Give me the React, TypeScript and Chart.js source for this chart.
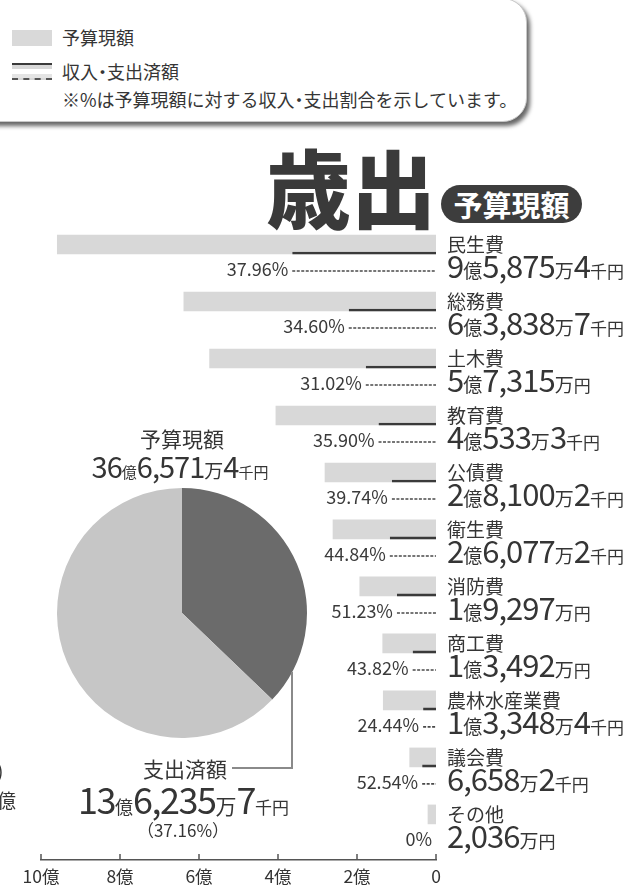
import React, { useEffect, useRef } from "react";
import { Chart, registerables } from "chart.js";

Chart.register(...registerables);

// ---------- data ----------
const categories = ["民生費", "総務費", "土木費", "教育費", "公債費", "衛生費", "消防費", "商工費", "農林水産業費", "議会費", "その他"];
// 予算現額 (億円)
const budgetOku = [9.58754, 6.38387, 5.7315, 4.05333, 2.81002, 2.60772, 1.9297, 1.3492, 1.33484, 0.66582, 0.2036];
// 支出済額 (億円)
const executedOku = [3.6394, 2.2088, 1.7779, 1.4551, 1.1167, 1.1693, 0.9886, 0.5912, 0.3262, 0.3498, 0];
const executedPct = ["37.96%", "34.60%", "31.02%", "35.90%", "39.74%", "44.84%", "51.23%", "43.82%", "24.44%", "52.54%", "0%"];
const budgetLabels = ["9億5,875万4千円", "6億3,838万7千円", "5億7,315万円", "4億533万3千円", "2億8,100万2千円", "2億6,077万2千円", "1億9,297万円", "1億3,492万円", "1億3,348万4千円", "6,658万2千円", "2,036万円"];
const xTickValues = [0, 2, 4, 6, 8, 10];
const xTickLabels = ["0", "2億", "4億", "6億", "8億", "10億"];

const pieLabels = ["支出済額", "未支出額"];
const pieValues = [13.62357, 23.03357];
const pieBudgetTitle = "予算現額";
const pieBudgetText = "36億6,571万4千円";
const pieExecTitle = "支出済額";
const pieExecText = "13億6,235万7千円";
const pieExecPct = "（37.16%）";

// ---------- layout constants ----------
const FONT = "'Noto Sans CJK JP', 'Noto Sans', sans-serif";
const ROW0 = 244.5;
const ROW_H = 57;
const EXEC_OFFSET = 0.307;
const TEXT = "#353535";

type Sizes = { d: number; o: number; m: number; y: number; ls?: number };

function Amount({ text, left, baseline, sizes, center }: { text: string; left: number; baseline: number; sizes: Sizes; center?: boolean }) {
  const parts = text.match(/[0-9,.]+|億|万|千円|円|千/g) || [];
  return (
    <div
      style={{
        position: "absolute",
        left,
        top: baseline - 0.936 * sizes.d,
        display: "flex",
        alignItems: "baseline",
        whiteSpace: "nowrap",
        color: TEXT,
        transform: center ? "translateX(-50%)" : undefined,
      }}
    >
      {parts.map((p, i) => {
        const isNum = /[0-9]/.test(p);
        const f = isNum ? sizes.d : p === "億" ? sizes.o : p === "万" ? sizes.m : sizes.y;
        return (
          <span key={i} style={{ fontSize: f, lineHeight: 1, letterSpacing: isNum ? sizes.ls ?? -1 : 0 }}>
            {p}
          </span>
        );
      })}
    </div>
  );
}

// text with a narrow middle dot
function Dotted({ text }: { text: string }) {
  const parts = text.split("・");
  return (
    <>
      {parts.map((p, i) => (
        <React.Fragment key={i}>
          {i > 0 && <span style={{ margin: "0 -4.5px" }}>・</span>}
          {p}
        </React.Fragment>
      ))}
    </>
  );
}

export default function App() {
  const barRef = useRef<HTMLCanvasElement | null>(null);
  const pieRef = useRef<HTMLCanvasElement | null>(null);

  useEffect(() => {
    document.body.style.margin = "0";
    const overlay = {
      id: "overlay",
      afterDatasetsDraw(chart: any) {
        const ctx = chart.ctx as CanvasRenderingContext2D;
        const meta = chart.getDatasetMeta(0);
        ctx.save();
        meta.data.forEach((el: any, i: number) => {
          const { x, y, base, height } = el.getProps(["x", "y", "base", "height"], true);
          const left = Math.min(x, base);
          const right = Math.max(x, base);
          if (right - left > 0.5) {
            ctx.strokeStyle = "#4a4a4a";
            ctx.lineWidth = 1.6;
            ctx.setLineDash([3, 1.5]);
            ctx.beginPath();
            ctx.moveTo(left, y + height / 2 - 1);
            ctx.lineTo(right, y + height / 2 - 1);
            ctx.stroke();
            ctx.setLineDash([]);
          }
          ctx.fillStyle = "#3a3a3a";
          ctx.font = `18px ${FONT}`;
          ctx.textAlign = "right";
          ctx.textBaseline = "middle";
          ctx.fillText(executedPct[i], left - 4, y + 7);
        });
        const xs = chart.scales.x;
        const bottom = chart.chartArea.bottom;
        ctx.strokeStyle = "#555";
        ctx.lineWidth = 1.5;
        xs.ticks.forEach((t: any) => {
          const px = xs.getPixelForValue(t.value);
          ctx.beginPath();
          ctx.moveTo(px, bottom - 6);
          ctx.lineTo(px, bottom);
          ctx.stroke();
        });
        ctx.restore();
      },
    };

    const bar = new Chart(barRef.current as HTMLCanvasElement, {
      type: "bar",
      data: {
        datasets: [
          {
            label: "収入・支出済額",
            data: executedOku.map((v, i) => ({ x: v, y: i + EXEC_OFFSET })),
            backgroundColor: "rgba(0,0,0,0)",
            borderColor: "#3a3a3a",
            borderWidth: { top: 2, bottom: 0, left: 0, right: 0 },
            borderSkipped: false,
            barThickness: 20,
            grouped: false,
            order: 0,
          } as any,
          {
            label: "予算現額",
            data: budgetOku.map((v, i) => ({ x: v, y: i })),
            backgroundColor: "#d8d8d8",
            borderWidth: 0,
            barThickness: 19,
            grouped: false,
            order: 1,
          } as any,
        ],
      },
      options: {
        indexAxis: "y",
        animation: false,
        responsive: false,
        maintainAspectRatio: false,
        layout: { padding: { left: 41, right: 201, top: 216, bottom: 0 } },
        plugins: { legend: { display: false }, tooltip: { enabled: false } },
        scales: {
          x: {
            type: "linear",
            reverse: true,
            min: 0,
            max: 10,
            ticks: {
              stepSize: 2,
              autoSkip: false,
              maxRotation: 0,
              padding: 6,
              color: "#333",
              font: { family: FONT, size: 17.5 },
              callback: (v: any) => xTickLabels[xTickValues.indexOf(Number(v))],
            },
            grid: { display: false, drawTicks: false },
            border: { display: true, color: "#555", width: 1.5 },
            afterFit: (s: any) => {
              s.height = 29;
            },
          },
          y: { type: "linear", reverse: true, min: -0.5, max: 10.8, offset: false, display: false },
        },
      } as any,
      plugins: [overlay],
    });

    const pie = new Chart(pieRef.current as HTMLCanvasElement, {
      type: "pie",
      data: {
        labels: pieLabels,
        datasets: [{ data: pieValues, backgroundColor: ["#6b6b6b", "#c6c6c6"], borderWidth: 0 }],
      },
      options: {
        animation: false,
        responsive: false,
        layout: { padding: 5 },
        plugins: { legend: { display: false }, tooltip: { enabled: false } },
      } as any,
    });

    return () => {
      bar.destroy();
      pie.destroy();
    };
  }, []);

  const abs = (s: React.CSSProperties): React.CSSProperties => ({ position: "absolute", ...s });

  return (
    <div style={{ position: "fixed", left: 0, top: 0, width: 637, height: 889, overflow: "hidden", background: "#fff", fontFamily: FONT, color: TEXT }}>
      {/* legend box */}
      <div style={abs({ left: -30, top: -2, width: 557, height: 124, borderRadius: 24, background: "#fff", border: "1px solid #c8c8c8", boxShadow: "3px 4px 4px rgba(0,0,0,0.6)", boxSizing: "border-box" })} />
      <div style={abs({ left: 12, top: 30, width: 40, height: 16, background: "#d9d9d9" })} />
      <div style={abs({ left: 62, top: 28, fontSize: 18, lineHeight: 1, whiteSpace: "nowrap" })}>予算現額</div>
      <div style={abs({ left: 12, top: 63, width: 40, height: 17, boxSizing: "border-box", borderTop: "2px solid #3a3a3a", borderBottom: "2px dashed #555", background: "linear-gradient(#d8d8d8 0 30%, #fff 30% 70%, #e4e4e4 70% 100%)" })} />
      <div style={abs({ left: 62, top: 62, fontSize: 18, lineHeight: 1, whiteSpace: "nowrap" })}>
        <Dotted text="収入・支出済額" />
      </div>
      <div style={abs({ left: 62, top: 90, fontSize: 18, lineHeight: 1, whiteSpace: "nowrap" })}>
        <Dotted text="※%は予算現額に対する収入・支出割合を示しています。" />
      </div>

      {/* title */}
      <div style={abs({ left: 266, top: 142, fontSize: 85, fontWeight: 900, lineHeight: 1, color: "#3a3a3a", whiteSpace: "nowrap" })}>歳出</div>
      <div style={abs({ left: 441, top: 185, width: 141, height: 38, borderRadius: 19, background: "#3d3d3d", color: "#fff", display: "flex", alignItems: "center", justifyContent: "center", fontSize: 29, fontWeight: 700, lineHeight: 1, whiteSpace: "nowrap" })}>
        {pieBudgetTitle}
      </div>

      {/* bar chart */}
      <canvas ref={barRef} width={637} height={889} style={abs({ left: 0, top: 0 })} />

      {/* category labels */}
      {categories.map((c, i) => (
        <div key={c} style={abs({ left: 447, top: ROW0 + ROW_H * i - 0.556 * 19, fontSize: 19, lineHeight: 1, whiteSpace: "nowrap" })}>
          {c}
        </div>
      ))}
      {budgetLabels.map((t, i) => (
        <Amount key={i} text={t} left={447} baseline={278 + ROW_H * i} sizes={{ d: 31, o: 19, m: 19, y: 17, ls: -1 }} />
      ))}

      {/* pie */}
      <canvas ref={pieRef} width={260} height={260} style={abs({ left: 52, top: 483 })} />
      <div style={abs({ left: 182, top: 428, transform: "translateX(-50%)", fontSize: 21, lineHeight: 1, whiteSpace: "nowrap" })}>{pieBudgetTitle}</div>
      <Amount text={pieBudgetText} left={180} baseline={478} sizes={{ d: 29, o: 15, m: 19, y: 15, ls: -1 }} center />
      <div style={abs({ left: 291, top: 672, width: 2, height: 97, background: "#8a8a8a" })} />
      <div style={abs({ left: 232, top: 767, width: 61, height: 2, background: "#8a8a8a" })} />
      <div style={abs({ left: 143, top: 758, fontSize: 21, lineHeight: 1, whiteSpace: "nowrap" })}>{pieExecTitle}</div>
      <Amount text={pieExecText} left={78} baseline={814} sizes={{ d: 36, o: 18, m: 21, y: 17, ls: -1.5 }} />
      <div style={abs({ left: 183, top: 821, transform: "translateX(-50%)", fontSize: 17, lineHeight: 1, whiteSpace: "nowrap" })}>{pieExecPct}</div>

      {/* neighbouring-panel remnants at the left edge */}
      <div style={abs({ left: -3, top: 760, fontSize: 19, lineHeight: 1 })}>)</div>
      <div style={abs({ left: -3, top: 790, fontSize: 19, lineHeight: 1 })}>億</div>
    </div>
  );
}
